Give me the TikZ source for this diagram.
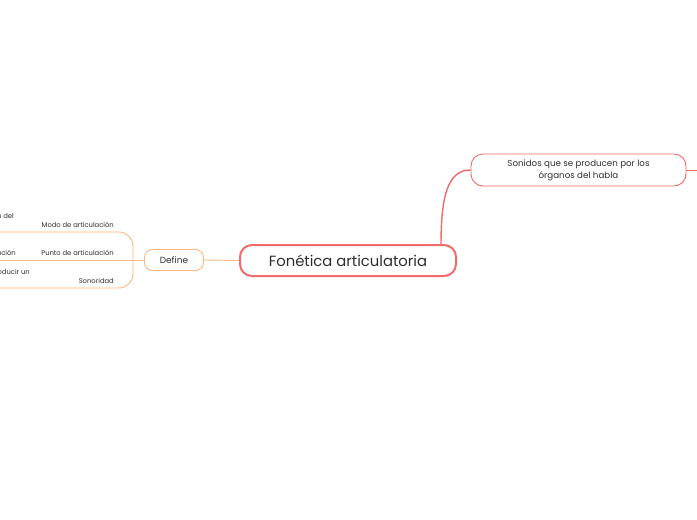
\documentclass[tikz,border=0pt]{standalone}
\usepackage{fontspec}
\setmainfont{Poppins}
\definecolor{coral}{HTML}{F26B6B}
\definecolor{peach}{HTML}{FFB57E}
\definecolor{ink}{HTML}{2E2E2E}
\tikzset{
  mainbox/.style={draw=coral, line width=2pt, rounded corners=12pt, fill=white, text=ink, minimum width=216pt, minimum height=31pt, inner sep=0pt, font=\fontsize{14.8}{17}\selectfont},
  topbox/.style={draw=coral, line width=0.9pt, rounded corners=12pt, fill=white, text=ink, minimum width=215pt, minimum height=32pt, inner sep=0pt, align=center, font=\fontsize{8.7}{12}\selectfont},
  defbox/.style={draw=peach, line width=0.9pt, rounded corners=8pt, fill=white, text=ink, minimum width=59pt, minimum height=21pt, inner sep=0pt, font=\fontsize{8.9}{10}\selectfont},
  leaf/.style={text=ink, inner sep=0pt, font=\fontsize{6.8}{8}\selectfont},
  redline/.style={draw=coral, line width=1.4pt},
  peachline/.style={draw=peach, line width=0.9pt},
}
\begin{document}
\begin{tikzpicture}[x=1pt,y=-1pt]
\useasboundingbox (0,0) rectangle (697,520);
\clip (0,0) rectangle (697,520);
\fill[white] (0,0) rectangle (697,520);
% connectors
\coordinate (rend) at (700,170);
\coordinate (br) at (133,260);
\coordinate (l1) at (-5,232);
\coordinate (l2) at (-5,260);
\coordinate (l3) at (-5,288);
\node[topbox] (top) at (578.5,170) {Sonidos que se producen por los\\órganos del habla};
\draw[peachline, rounded corners=14pt] (br) -- (133,232) -- (l1);
\draw[peachline, rounded corners=14pt] (br) -- (133,288) -- (l3);
\draw[peachline] (br) -- (l2);
\node[mainbox] (main) at (348,260.5) {Fonética articulatoria};
\node[defbox] (def) at (174,260) {Define};
\draw[redline] (441,245) .. controls (441,195) and (448,170) .. (top.west);
\draw[peachline] (def.west) -- (br);
\draw[peachline] (def.east) -- (main.west);
\draw[draw=coral, line width=0.9pt] (top.east) -- (rend);
% leaf labels
\node[leaf, anchor=east] (modo) at (114,225) {Modo de articulación};
\node[leaf, anchor=east] (punto) at (114,253) {Punto de articulación};
\node[leaf, anchor=east] (sono) at (114,281) {Sonoridad};
\node[leaf, anchor=east] (f1) at (14,216) {n del};
\node[leaf, anchor=east] (f2) at (16,253) {ación};
\node[leaf, anchor=east] (f3) at (30,272) {oducir un};
\end{tikzpicture}
\end{document}
